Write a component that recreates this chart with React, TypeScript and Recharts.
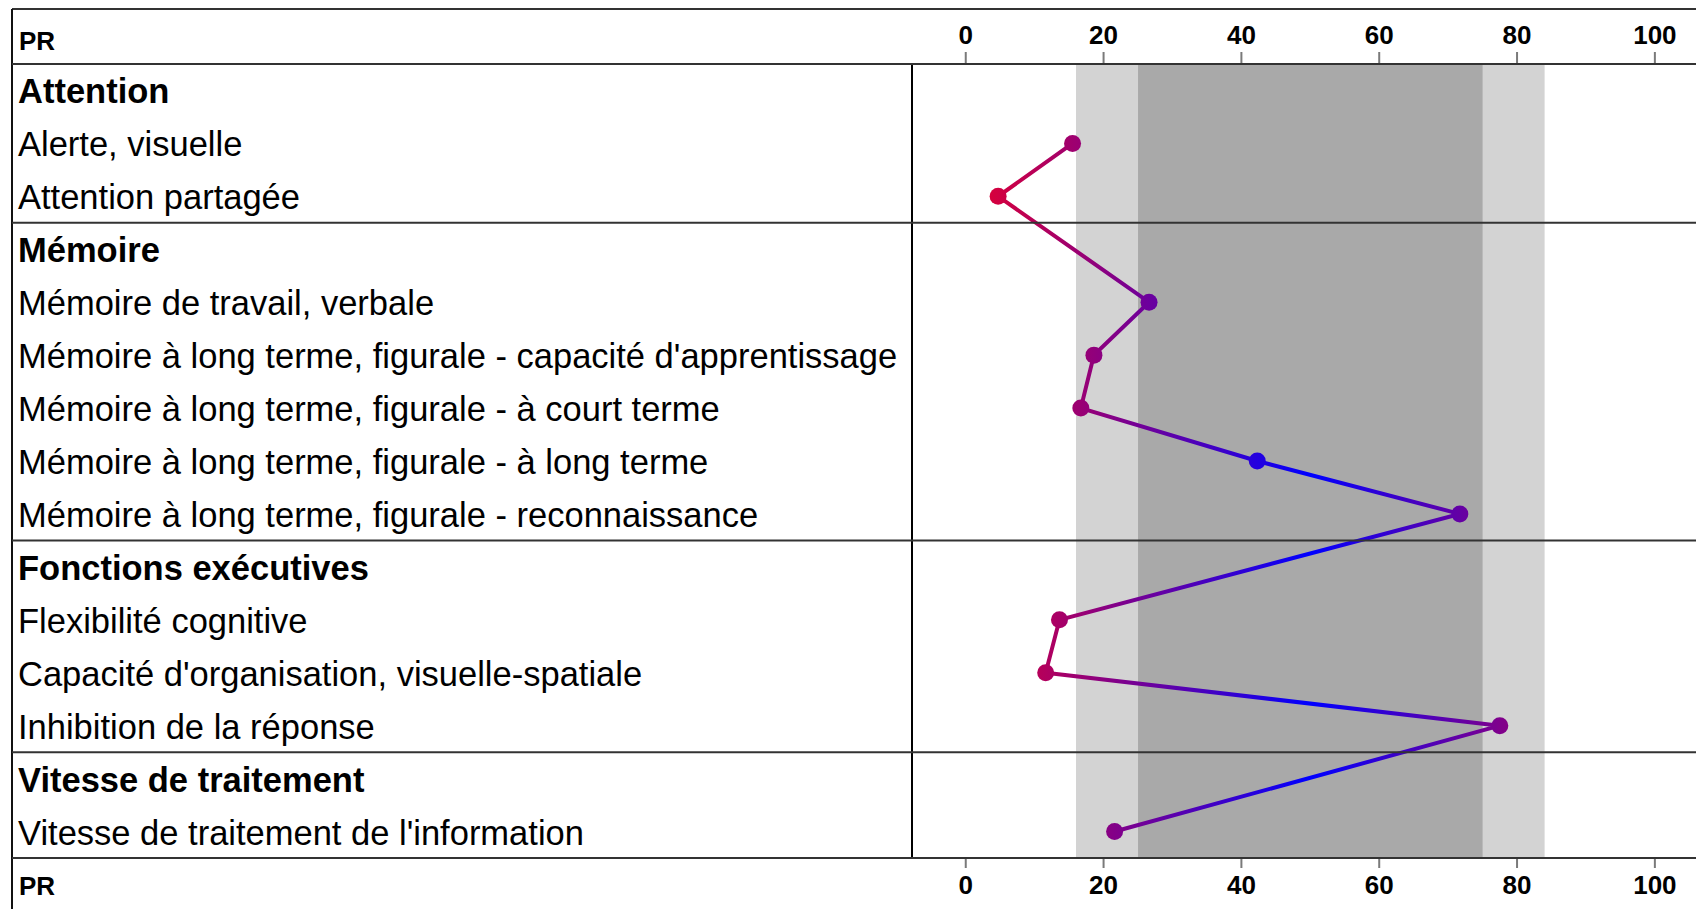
import React from 'react';
import { LineChart, Line, XAxis, YAxis, ReferenceArea } from 'recharts';

// Rows of the profile, top to bottom
const categories = [
  'Attention',
  'Alerte, visuelle',
  'Attention partagée',
  'Mémoire',
  'Mémoire de travail, verbale',
  "Mémoire à long terme, figurale - capacité d'apprentissage",
  'Mémoire à long terme, figurale - à court terme',
  'Mémoire à long terme, figurale - à long terme',
  'Mémoire à long terme, figurale - reconnaissance',
  'Fonctions exécutives',
  'Flexibilité cognitive',
  "Capacité d'organisation, visuelle-spatiale",
  'Inhibition de la réponse',
  'Vitesse de traitement',
  "Vitesse de traitement de l'information",
];
const isHeader = [true, false, false, true, false, false, false, false, false, true, false, false, false, true, false];
const prValues = [null, 15.5, 4.7, null, 26.6, 18.6, 16.7, 42.3, 71.7, null, 13.6, 11.6, 77.5, null, 21.6];
const prTicks = [0, 20, 40, 60, 80, 100];
const averageRange = [25, 75];
const wideRange = [16, 84];

const FONT = '"Liberation Sans", Arial, sans-serif';
const PLOT_LEFT = 912;
const PLOT_TOP = 64;
const PLOT_BOTTOM = 858;
const ROW_H = (PLOT_BOTTOM - PLOT_TOP) / categories.length;
const DOMAIN: [number, number] = [-7.8, 108];
const PLOT_W = 798;
const CHART_W = PLOT_LEFT + PLOT_W;
const CHART_H = PLOT_BOTTOM + 60;

// pixel position of a PR value, only used to lay the colour gradient over the axis
const prToPx = (v: number) => PLOT_LEFT + ((v - DOMAIN[0]) / (DOMAIN[1] - DOMAIN[0])) * PLOT_W;

const rows = categories.map((name, i) => ({ name, pr: prValues[i] }));

function RowTick(props: any) {
  const { y, payload } = props;
  const i = categories.indexOf(payload.value);
  return (
    <text
      x={18}
      y={y}
      dy={13}
      fontFamily={FONT}
      fontSize={34.5}
      fontWeight={isHeader[i] ? 700 : 400}
      fill="#000"
    >
      {payload.value}
    </text>
  );
}

function PrTick(props: any) {
  const { x, payload, side } = props;
  return (
    <text
      x={x}
      y={side === 'top' ? 44 : 894}
      textAnchor="middle"
      fontFamily={FONT}
      fontSize={26}
      fontWeight={700}
      fill="#000"
    >
      {payload.value}
    </text>
  );
}

// the category axis places rows at their centres, so stretch the band half a row each way
function fullHeightBand(fill: string) {
  return (p: any) => (
    <rect x={p.x} y={p.y - ROW_H / 2} width={p.width} height={p.height + ROW_H} fill={fill} />
  );
}

export default function App() {
  const separators = [0, ...isHeader.map((h, i) => (h && i > 0 ? i : -1)).filter((i) => i > 0), categories.length];

  return (
    <div style={{ position: 'fixed', left: 0, top: 0, width: 1696, height: 909, overflow: 'hidden', background: '#fff' }}>
      <LineChart
        width={CHART_W}
        height={CHART_H}
        data={rows}
        layout="vertical"
        margin={{ top: 9, right: 0, bottom: 0, left: 12 }}
      >
        <defs>
          <linearGradient id="prGrad" gradientUnits="userSpaceOnUse" x1={prToPx(0)} y1={0} x2={prToPx(100)} y2={0}>
            <stop offset="0" stopColor="#e6002e" />
            <stop offset="0.5" stopColor="#0000ff" />
            <stop offset="1" stopColor="#e6002e" />
          </linearGradient>
        </defs>
        <XAxis
          xAxisId="top"
          orientation="top"
          type="number"
          domain={DOMAIN}
          ticks={prTicks}
          interval={0}
          allowDataOverflow
          height={55}
          axisLine={false}
          tickSize={12}
          tickLine={{ stroke: '#7a7a7a', strokeWidth: 2 }}
          tick={<PrTick side="top" />}
        />
        <XAxis
          xAxisId="bottom"
          orientation="bottom"
          type="number"
          domain={DOMAIN}
          ticks={prTicks}
          interval={0}
          allowDataOverflow
          height={60}
          axisLine={false}
          tickSize={10}
          tickLine={{ stroke: '#7a7a7a', strokeWidth: 2 }}
          tick={<PrTick side="bottom" />}
        />
        <YAxis
          type="category"
          dataKey="name"
          width={900}
          interval={0}
          padding={{ top: ROW_H / 2, bottom: ROW_H / 2 }}
          tickLine={false}
          axisLine={{ stroke: '#000', strokeWidth: 2 }}
          tick={<RowTick />}
        />
        <ReferenceArea
          xAxisId="top"
          x1={wideRange[0]}
          x2={wideRange[1]}
          fillOpacity={1}
          shape={fullHeightBand('#d3d3d3')}
        />
        <ReferenceArea
          xAxisId="top"
          x1={averageRange[0]}
          x2={averageRange[1]}
          fillOpacity={1}
          shape={fullHeightBand('#a9a9a9')}
        />
        <Line
          xAxisId="top"
          dataKey="pr"
          type="linear"
          stroke="url(#prGrad)"
          strokeWidth={4}
          connectNulls
          dot={{ r: 8.5, fill: 'url(#prGrad)', stroke: 'none', strokeWidth: 0 }}
          activeDot={false}
          isAnimationActive={false}
        />
      </LineChart>

      {/* table frame and PR captions */}
      <svg width={1696} height={909} style={{ position: 'absolute', left: 0, top: 0, pointerEvents: 'none' }}>
        <line x1={12} y1={9} x2={1696} y2={9} stroke="#333" strokeWidth={2} />
        <line x1={12} y1={9} x2={12} y2={909} stroke="#111" strokeWidth={2} />
        {separators.map((i) => (
          <line
            key={i}
            x1={12}
            x2={1696}
            y1={PLOT_TOP + i * ROW_H}
            y2={PLOT_TOP + i * ROW_H}
            stroke="#333"
            strokeWidth={2}
          />
        ))}
        <text x={19} y={50} fontFamily={FONT} fontSize={26} fontWeight={700} fill="#000">PR</text>
        <text x={19} y={895} fontFamily={FONT} fontSize={26} fontWeight={700} fill="#000">PR</text>
      </svg>
    </div>
  );
}
